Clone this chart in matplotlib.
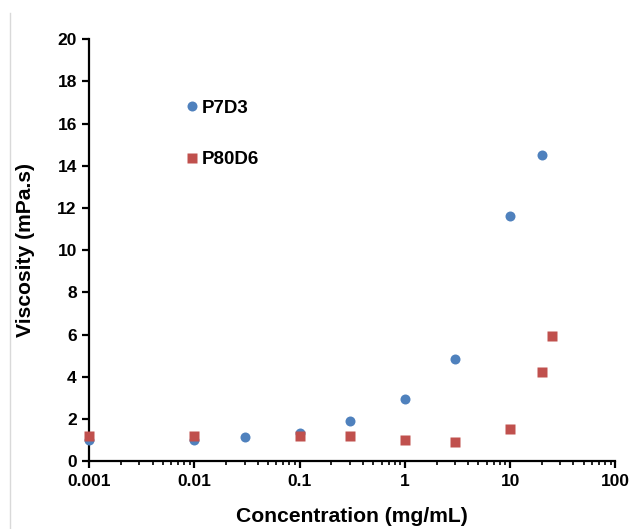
import numpy as np
import matplotlib
matplotlib.use('Agg')
import matplotlib.pyplot as plt
import matplotlib.ticker as ticker
from matplotlib.lines import Line2D

plt.rcParams['font.family'] = ['Liberation Sans', 'DejaVu Sans']
plt.rcParams['font.weight'] = 'bold'

# data
conc_p7d3 = [0.001, 0.01, 0.03, 0.1, 0.3, 1, 3, 10, 20]
visc_p7d3 = [1.0, 1.0, 1.12, 1.31, 1.9, 2.94, 4.82, 11.6, 14.5]
conc_p80d6 = [0.001, 0.01, 0.1, 0.3, 1, 3, 10, 20, 25]
visc_p80d6 = [1.2, 1.2, 1.2, 1.2, 1.0, 0.92, 1.53, 4.2, 5.93]
x_ticks = [0.001, 0.01, 0.1, 1, 10, 100]
x_labels = ['0.001', '0.01', '0.1', '1', '10', '100']

fig = plt.figure(figsize=(6.3, 5.29), dpi=100)
ax = fig.add_axes([0.1417, 0.1285, 0.835, 0.7972])

ax.plot(conc_p7d3, visc_p7d3, 'o', color='#4F81BD', ms=7.2, mec='none', label='P7D3', clip_on=False, zorder=3)
ax.plot(conc_p80d6, visc_p80d6, 's', color='#C0504D', ms=7.0, mec='none', label='P80D6', clip_on=False, zorder=3)

ax.set_xscale('log')
ax.set_xlim(0.001, 100)
ax.set_ylim(0, 20)
ax.set_xticks(x_ticks)
ax.set_xticklabels(x_labels)
ax.xaxis.set_minor_locator(ticker.LogLocator(base=10, subs=np.arange(2, 10)))
ax.xaxis.set_minor_formatter(ticker.NullFormatter())
ax.set_yticks(np.arange(0, 21, 2))

for s in ['top', 'right']:
    ax.spines[s].set_visible(False)
for s in ['left', 'bottom']:
    ax.spines[s].set_linewidth(1.6)
ax.tick_params(axis='both', which='major', direction='out', length=5, width=1.6, labelsize=12.5, pad=4)
ax.tick_params(axis='x', which='minor', direction='out', length=3, width=1.2)
for lab in ax.get_xticklabels() + ax.get_yticklabels():
    lab.set_fontweight('bold')

ax.set_xlabel('Concentration (mg/mL)', fontsize=15.2, fontweight='bold', labelpad=13)
ax.set_ylabel('Viscosity (mPa.s)', fontsize=15.2, fontweight='bold', labelpad=16)

leg = ax.legend(loc='upper left', bbox_to_anchor=(0.17, 0.875), frameon=False,
                handlelength=0.6, handletextpad=0.25, labelspacing=1.84,
                prop={'weight': 'bold', 'size': 13.5}, borderaxespad=0)

# faint border line at left edge of the picture
fig.add_artist(Line2D([10/630, 10/630], [0, 1 - 13/529], color='#d9d9d9', lw=1))

fig.savefig('out.png', dpi=100)
